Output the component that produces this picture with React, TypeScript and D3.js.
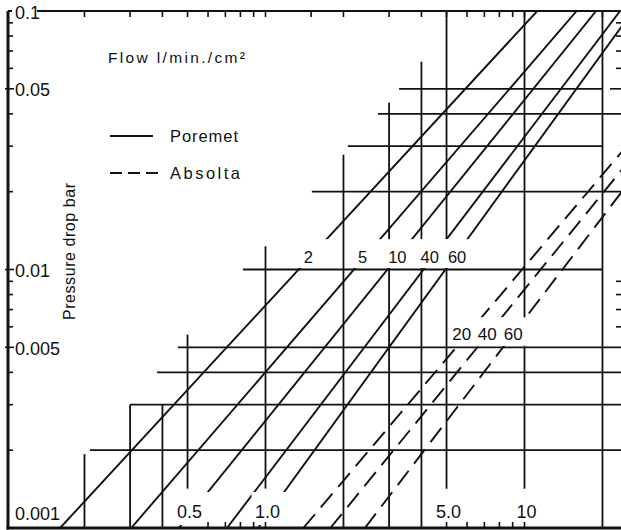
import React from "react";
import * as d3 from "d3";

// ---- data ----
const poremetSizes = ["2", "5", "10", "40", "60"];
const poremetFlowAtLowP = [0.161, 0.303, 0.463, 0.71, 0.936]; // l/min/cm² at 0.001 bar
const poremetFlowAtHighP = [11.2, 15.9, 18.9, 23.4, 26.2]; // l/min/cm² at 0.1 bar
const absoltaSizes = ["20", "40", "60"];
const absoltaFlowAtLowP = [1.4, 1.78, 2.42];
const absoltaFlowAtHighP = [68.5, 74.9, 81.1];
const lineEndPressures = [0.001, 0.1];

const yTickValues = [0.1, 0.05, 0.01, 0.005, 0.001];
const yTickLabels = ["0.1", "0.05", "0.01", "0.005", "0.001"];
const yMinorTicks = [0.002, 0.003, 0.004, 0.006, 0.007, 0.008, 0.009, 0.02, 0.03, 0.04, 0.06, 0.07, 0.08, 0.09];
const rightTicks = [0.006, 0.007, 0.008, 0.009, 0.06, 0.07, 0.08, 0.09];
const xTickValues = [0.5, 1, 5, 10];
const xTickLabels = ["0.5", "1.0", "5.0", "10"];
const bottomMinorTicks = [0.6, 0.7, 0.8, 0.9, 1, 5, 6, 7, 8, 9, 10];
const topMinorTicks = [0.2, 0.3, 0.4, 0.5, 0.6, 0.7, 0.8, 0.9, 1, 1.5, 2, 3, 4, 5, 6, 7, 8, 9, 10, 20];

const hGridPressures = [0.002, 0.003, 0.004, 0.005, 0.01, 0.02, 0.03, 0.04, 0.05];
const hGridFromFlow = [0.21, 0.3, 0.381, 0.459, 0.818, 1.51, 2.08, 2.72, 3.28];
const hGridToFlow = [24, 24, 24, 24, 20, 24, 20, 24, 20];
const vGridFlows = [0.2, 0.3, 0.4, 0.5, 1, 2, 3, 4, 5, 10, 20];
const vGridTopP = [0.00193, 0.003, 0.003, 0.0056, 0.0123, 0.0278, 0.0442, 0.0636, 0.1, 0.1, 0.1];
const vGridBottomP = [0.001, 0.001, 0.001, 0.00142, 0.00142, 0.001, 0.001, 0.001, 0.00142, 0.00142, 0.001];

const FONT = "'Liberation Sans', Arial, sans-serif";
const INK = "#111";

export default function App() {
  const W = 621;
  const H = 530;
  const x = d3.scaleLog().domain([0.1, 24]).range([6.5, 6.5 + 259 * Math.log10(240)]);
  const y = d3.scaleLog().domain([0.001, 0.1]).range([528, 11]);
  const xL = 8;
  const xR = x(24);
  const yB = y(0.001);
  const yT = y(0.1);
  const line = d3
    .line<[number, number]>()
    .x((d) => x(d[0]))
    .y((d) => y(d[1]));

  const flowAt = (lo: number, hi: number, p: number) => {
    const a = Math.log10(lo);
    const b = Math.log10(hi);
    const t =
      (Math.log10(p) - Math.log10(lineEndPressures[0])) /
      (Math.log10(lineEndPressures[1]) - Math.log10(lineEndPressures[0]));
    return Math.pow(10, a + t * (b - a));
  };

  const solidGap = [0.01, 0.0131];
  const solidLabelP = 0.0114;
  const solidLabelDx = [-4, -4, -2, -5, 1];
  const dashGap = [0.005, 0.00653];
  const dashLabelP = 0.0057;
  const dashLabelDx = [-7, -2, -1];

  const makeLabel = (
    lo: number[],
    hi: number[],
    names: string[],
    gap: number[],
    lp: number,
    dx: number[],
    baseline: number,
    fs: number
  ) =>
    names.map((name, i) => {
      const xa = x(flowAt(lo[i], hi[i], gap[0]));
      const xb = x(flowAt(lo[i], hi[i], gap[1]));
      const lx = x(flowAt(lo[i], hi[i], lp)) + dx[i];
      const w = name.length * fs * 0.556;
      const x0 = Math.min(xa, lx - w / 2) - 3;
      const x1 = Math.max(xb, lx + w / 2) + 3;
      return {
        name,
        lx,
        baseline,
        box: { x0, x1, y0: y(gap[1]), y1: y(gap[0]) - 1.5 },
      };
    });

  const solidLabels = makeLabel(poremetFlowAtLowP, poremetFlowAtHighP, poremetSizes, solidGap, solidLabelP, solidLabelDx, 263, 16.5);
  const dashLabels = makeLabel(absoltaFlowAtLowP, absoltaFlowAtHighP, absoltaSizes, dashGap, dashLabelP, dashLabelDx, 340, 17);

  return (
    <svg
      width={W}
      height={H}
      viewBox={`0 0 ${W} ${H}`}
      style={{ position: "absolute", left: 0, top: 0, background: "#fff" }}
    >
      <defs>
        <clipPath id="plot">
          <rect x={xL} y={yT} width={xR - xL} height={yB - yT} />
        </clipPath>
      </defs>
      <rect x={0} y={0} width={W} height={H} fill="#fff" />

      {/* grid staircase */}
      <g stroke={INK} strokeWidth={1.8} clipPath="url(#plot)">
        {hGridPressures.map((p, i) => (
          <line key={"h" + i} x1={x(hGridFromFlow[i])} x2={x(hGridToFlow[i])} y1={y(p)} y2={y(p)} />
        ))}
        {vGridFlows.map((f, i) => (
          <line key={"v" + i} x1={x(f)} x2={x(f)} y1={y(vGridTopP[i])} y2={y(vGridBottomP[i])} />
        ))}
      </g>

      {/* characteristic lines */}
      <g fill="none" stroke={INK} strokeWidth={1.9} clipPath="url(#plot)">
        {poremetSizes.map((s, i) => (
          <path
            key={"p" + s}
            d={line([
              [poremetFlowAtLowP[i], lineEndPressures[0]],
              [poremetFlowAtHighP[i], lineEndPressures[1]],
            ]) as string}
          />
        ))}
        {absoltaSizes.map((s, i) => (
          <path
            key={"a" + s}
            strokeDasharray="18 9"
            d={line([
              [absoltaFlowAtLowP[i], lineEndPressures[0]],
              [absoltaFlowAtHighP[i], lineEndPressures[1]],
            ]) as string}
          />
        ))}
      </g>

      {/* white label backgrounds */}
      <g fill="#fff">
        {[...solidLabels, ...dashLabels].map((l, i) => (
          <rect key={"b" + i} x={l.box.x0} y={l.box.y0} width={l.box.x1 - l.box.x0} height={l.box.y1 - l.box.y0} />
        ))}
        {xTickValues.map((v, i) => (
          <rect key={"xb" + i} x={x(v) - 14} y={492} width={36} height={33} />
        ))}
        <rect x={12} y={2} width={25} height={19} />
      </g>

      {/* frame and ticks */}
      <g stroke={INK}>
        <line x1={xL} x2={xL} y1={yT} y2={yB + 1.5} strokeWidth={3} />
        <line x1={xL - 1.5} x2={xR} y1={yB} y2={yB} strokeWidth={3} />
        <line x1={37} x2={xR} y1={yT} y2={yT} strokeWidth={2} />
        <line x1={xL} x2={12} y1={yT} y2={yT} strokeWidth={2} />
        {yMinorTicks.map((v) => (
          <line key={"ym" + v} x1={xL} x2={xL + 5} y1={y(v)} y2={y(v)} strokeWidth={1.6} />
        ))}
        {yTickValues.slice(1, 4).map((v) => (
          <line key={"yM" + v} x1={xL - 3} x2={xL + 6} y1={y(v)} y2={y(v)} strokeWidth={1.6} />
        ))}
        {bottomMinorTicks.map((v) => (
          <line key={"bm" + v} x1={x(v)} x2={x(v)} y1={yB} y2={yB - 6} strokeWidth={1.6} />
        ))}
        {topMinorTicks.map((v) => (
          <line key={"tm" + v} x1={x(v)} x2={x(v)} y1={yT} y2={yT + 6} strokeWidth={1.6} />
        ))}
        {rightTicks.map((v) => (
          <line key={"rt" + v} x1={xR - 7} x2={xR} y1={y(v)} y2={y(v)} strokeWidth={1.6} />
        ))}
        <line x1={xR - 13} x2={xR} y1={y(0.05)} y2={y(0.05)} strokeWidth={1.6} />
      </g>

      {/* axis labels */}
      <g fontFamily={FONT} fill={INK} fontSize={18}>
        {yTickValues.map((v, i) => (
          <text key={"yl" + i} x={15} y={v === 0.001 ? yB - 8 : y(v) + 7.5}>
            {yTickLabels[i]}
          </text>
        ))}
        {xTickValues.map((v, i) => (
          <text key={"xl" + i} x={x(v) + 2} y={518} textAnchor="middle">
            {xTickLabels[i]}
          </text>
        ))}
      </g>

      {/* curve labels */}
      <g fontFamily={FONT} fill={INK} textAnchor="middle">
        {solidLabels.map((l) => (
          <text key={"sl" + l.name} x={l.lx} y={l.baseline} fontSize={16.5}>
            {l.name}
          </text>
        ))}
        {dashLabels.map((l) => (
          <text key={"dl" + l.name} x={l.lx} y={l.baseline} fontSize={17}>
            {l.name}
          </text>
        ))}
      </g>

      {/* title, legend, y-axis title */}
      <g fontFamily={FONT} fill={INK}>
        <text x={108} y={63} fontSize={15.5} textLength={137} lengthAdjust="spacing">
          Flow l/min./cm²
        </text>
        <line x1={110} x2={153} y1={136} y2={136} stroke={INK} strokeWidth={1.9} />
        <text x={170} y={142} fontSize={16.5} textLength={68} lengthAdjust="spacing">
          Poremet
        </text>
        <line x1={110} x2={160} y1={173} y2={173} stroke={INK} strokeWidth={1.9} strokeDasharray="12 6" />
        <text x={170} y={179} fontSize={16.5} textLength={70} lengthAdjust="spacing">
          Absolta
        </text>
        <text
          transform="translate(75,251.5) rotate(-90)"
          textAnchor="middle"
          fontSize={16}
          textLength={137}
          lengthAdjust="spacing"
        >
          Pressure drop bar
        </text>
      </g>
    </svg>
  );
}
